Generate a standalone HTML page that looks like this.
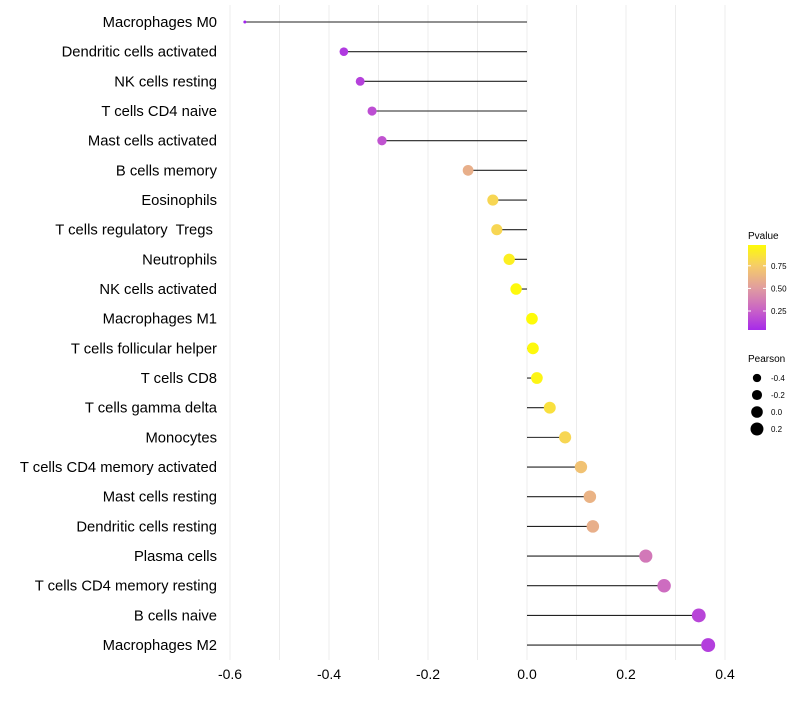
<!DOCTYPE html>
<html><head><meta charset="utf-8"><style>
body{margin:0;background:#fff;font-family:"Liberation Sans",sans-serif;}
text{white-space:pre;}
</style></head><body>
<svg id="chart" width="800" height="700" xmlns="http://www.w3.org/2000/svg" xml:space="preserve">
<g id="grid"></g>
<g id="marks"></g>
<g id="ylabels"></g>
<g id="xlabels"></g>
<g id="legend"></g>
</svg>
<script>
const categories=["Macrophages M0","Dendritic cells activated","NK cells resting","T cells CD4 naive","Mast cells activated","B cells memory","Eosinophils","T cells regulatory  Tregs ","Neutrophils","NK cells activated","Macrophages M1","T cells follicular helper","T cells CD8","T cells gamma delta","Monocytes","T cells CD4 memory activated","Mast cells resting","Dendritic cells resting","Plasma cells","T cells CD4 memory resting","B cells naive","Macrophages M2"];
const pearson=[-0.570,-0.370,-0.337,-0.313,-0.293,-0.119,-0.069,-0.061,-0.036,-0.022,0.010,0.012,0.020,0.046,0.077,0.109,0.127,0.133,0.240,0.277,0.347,0.366];
const pvalues=[0.01,0.10,0.13,0.18,0.20,0.60,0.80,0.80,0.92,0.97,0.98,0.97,0.95,0.85,0.80,0.70,0.62,0.60,0.35,0.30,0.15,0.12];
const xTicks=[-0.6,-0.4,-0.2,0.0,0.2,0.4];
const pTicks=[0.25,0.50,0.75];
const sizeTicks=[-0.4,-0.2,0.0,0.2];
const NS="http://www.w3.org/2000/svg";
const x=v=>527+v*495;
const y=i=>22+i*29.67;
function rad(v){if(v<-0.4){return 1.5+(v+0.57)/0.17*2.7;}return Math.sqrt(18.5+41.2*(v+0.37));}
const stops=[[0,[160,32,240]],[0.25,[200,96,200]],[0.5,[224,156,160]],[0.75,[245,204,104]],[1,[255,255,0]]];
function col(p){for(let k=1;k<stops.length;k++){if(p<=stops[k][0]){const a=stops[k-1],b=stops[k],t=(p-a[0])/(b[0]-a[0]);return "rgb("+a[1].map((c,j)=>Math.round(c+(b[1][j]-c)*t)).join(",")+")";}}return "rgb(255,255,0)";}
function el(tag,attrs,parent){const e=document.createElementNS(NS,tag);for(const k in attrs)e.setAttribute(k,attrs[k]);parent.appendChild(e);return e;}
const grid=document.getElementById('grid'),marks=document.getElementById('marks'),yl=document.getElementById('ylabels'),xl=document.getElementById('xlabels'),lg=document.getElementById('legend');
for(let v=-0.6;v<=0.41;v+=0.1){const g=el('line',{x1:x(v),x2:x(v),y1:5,y2:660,stroke:'#ececec','stroke-width':1},grid);

}
xTicks.forEach(t=>{const tx=el('text',{x:x(t),y:679,'text-anchor':'middle','font-size':14,fill:'#000'},xl);tx.textContent=t.toFixed(1);

});
categories.forEach((c,i)=>{
const t=el('text',{x:217,y:y(i)+5,'text-anchor':'end','font-size':14.8,fill:'#000'},yl);t.textContent=c;


const ln=el('line',{x1:x(0),x2:x(pearson[i]),y1:y(i),y2:y(i),stroke:'#222','stroke-width':1.1},marks);


const cc=el('circle',{cx:x(pearson[i]),cy:y(i),r:rad(pearson[i]),fill:col(pvalues[i])},marks);


});
let tt=el('text',{x:748,y:239,'font-size':10,fill:'#000'},lg);tt.textContent='Pvalue';


const defs=el('defs',{},lg);const gr=el('linearGradient',{id:'pg',x1:0,y1:1,x2:0,y2:0},defs);
for(let k=0;k<=20;k++){el('stop',{offset:k/20,'stop-color':col(0.04+k/20*0.94)},gr);}
const bar=el('rect',{x:748,y:245,width:18,height:85,fill:'url(#pg)'},lg);


pTicks.forEach(p=>{const yy=330-(p-0.04)/0.94*85;
el('line',{x1:748,x2:751,y1:yy,y2:yy,stroke:'#fff'},lg);el('line',{x1:763,x2:766,y1:yy,y2:yy,stroke:'#fff'},lg);
const t=el('text',{x:771,y:yy+3,'font-size':8,fill:'#000'},lg);t.textContent=p.toFixed(2);

});
tt=el('text',{x:748,y:362,'font-size':10,fill:'#000'},lg);tt.textContent='Pearson';


sizeTicks.forEach((s,k)=>{const yy=378+k*17;
const c=el('circle',{cx:757,cy:yy,r:rad(s),fill:'#000'},lg);


const t=el('text',{x:771,y:yy+3,'font-size':8,fill:'#000'},lg);t.textContent=s.toFixed(1);

});
</script>
</body></html>
